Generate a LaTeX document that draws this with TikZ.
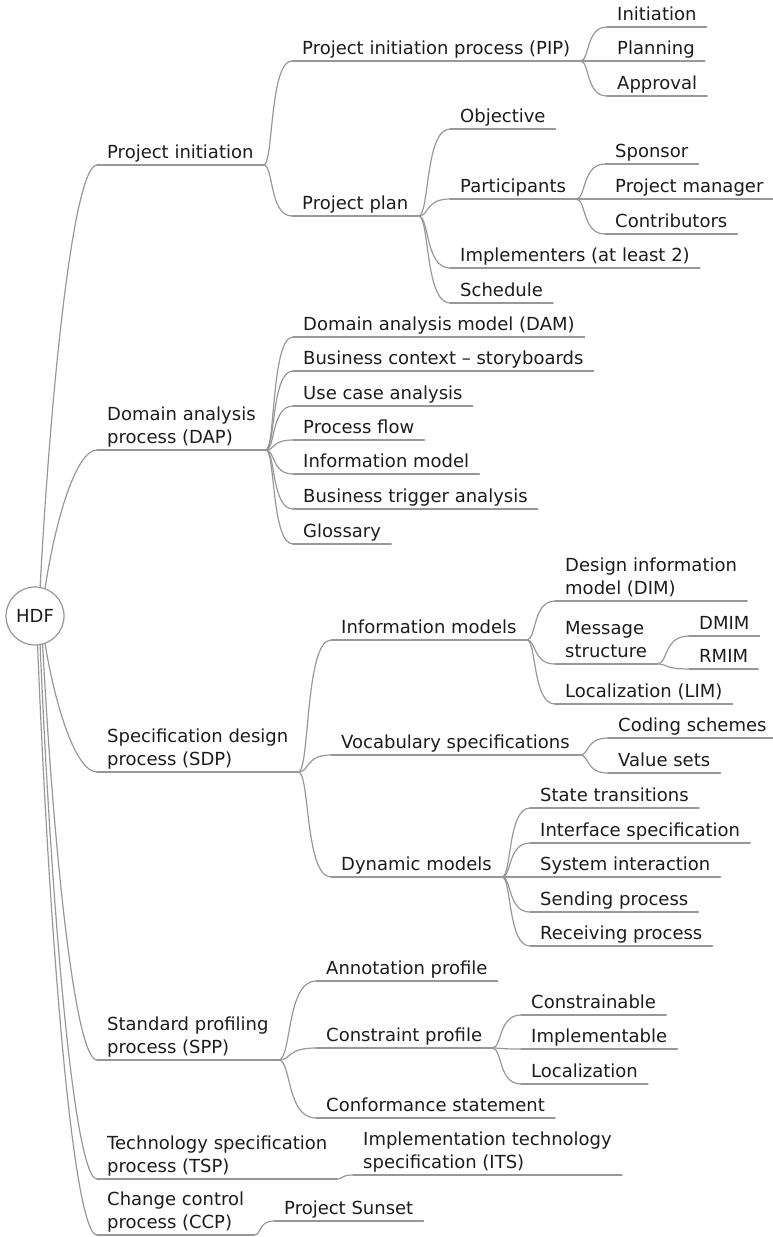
\documentclass[tikz,border=0pt]{standalone}
\usepackage{fontspec}
\setmainfont{DejaVu Sans}
\usetikzlibrary{calc}
\definecolor{linegray}{RGB}{152,152,152}
\definecolor{textdark}{RGB}{28,28,28}
\tikzset{
  topic/.style={anchor=south west, inner xsep=10pt, inner ysep=6pt, text depth=0pt,
    align=left, text=textdark, font=\fontsize{18}{23.5}\selectfont},
  link/.style={draw=linegray, line width=1.2pt, line cap=round},
}
% curve from the end of a parent's underline to the start of a child's
\newcommand\branchto[2]{%
  \draw[link] let \p1=(#1.south east), \p2=(#2.south west) in
    (\p1) .. controls ({\x1+0.35*(\x2-\x1)},\y1) and ({\x1+0.2*(\x2-\x1)},\y2) .. (\p2);}
% curve from the root circle to a main topic
\newcommand\trunkto[2]{%
  \draw[link] let \p1=(root.#1), \p2=(#2.south west) in
    (\p1) .. controls ({\x1+0.2*(\x2-\x1)},{\y1+0.5*(\y2-\y1)}) and ({\x1+0.6*(\x2-\x1)},\y2) .. (\p2);}
\begin{document}
\begin{tikzpicture}[x=1pt,y=-1pt]
  \useasboundingbox (0,0) rectangle (772,1237);
  \node[circle, draw=linegray, line width=1.2pt, minimum size=58pt, inner sep=0pt,
    text=textdark, font=\fontsize{18}{22}\selectfont] (root) at (35,616) {HDF};

  % main topics
  \node[topic] (pi)  at (97,165)  {Project initiation};
  \node[topic] (dap) at (97,450)  {Domain analysis\\process (DAP)};
  \node[topic] (sdp) at (97,772)  {Specification design\\process (SDP)};
  \node[topic] (spp) at (97,1060) {Standard profiling\\process (SPP)};
  \node[topic] (tsp) at (97,1179) {Technology specification\\process (TSP)};
  \node[topic] (ccp) at (97,1235) {Change control\\process (CCP)};

  % project initiation
  \node[topic] (pip)  at (292,61)  {Project initiation process (PIP)};
  \node[topic] (plan) at (292,216) {Project plan};
  \node[topic] (init)     at (607,27) {Initiation};
  \node[topic] (planning) at (607,61) {Planning};
  \node[topic] (approval) at (607,96) {Approval};
  \node[topic] (objective) at (450,129) {Objective};
  \node[topic] (partic)    at (450,199) {Participants};
  \node[topic] (implem)    at (450,268) {Implementers (at least 2)};
  \node[topic] (schedule)  at (450,303) {Schedule};
  \node[topic] (sponsor) at (605,164) {Sponsor};
  \node[topic] (manager) at (605,199) {Project manager};
  \node[topic] (contrib) at (605,234) {Contributors};

  % domain analysis
  \node[topic] (dam)      at (293,337) {Domain analysis model (DAM)};
  \node[topic] (context)  at (293,371) {Business context – storyboards};
  \node[topic] (usecase)  at (293,406) {Use case analysis};
  \node[topic] (flow)     at (293,440) {Process flow};
  \node[topic] (infomod)  at (293,474) {Information model};
  \node[topic] (trigger)  at (293,509) {Business trigger analysis};
  \node[topic] (glossary) at (293,544) {Glossary};

  % specification design
  \node[topic] (infomods) at (331,640) {Information models};
  \node[topic] (vocab)    at (331,755) {Vocabulary specifications};
  \node[topic] (dynamic)  at (331,877) {Dynamic models};
  \node[topic] (dim)  at (555,601) {Design information\\model (DIM)};
  \node[topic] (msg)  at (555,664) {Message\\structure};
  \node[topic] (lim)  at (555,704) {Localization (LIM)};
  \node[topic] (dmim) at (689,636) {DMIM};
  \node[topic] (rmim) at (689,669) {RMIM};
  \node[topic] (coding) at (608,738) {Coding schemes};
  \node[topic] (values) at (608,773) {Value sets};
  \node[topic] (states)    at (530,808) {State transitions};
  \node[topic] (iface)     at (530,843) {Interface specification};
  \node[topic] (sysint)    at (530,877) {System interaction};
  \node[topic] (sending)   at (530,912) {Sending process};
  \node[topic] (receiving) at (530,946) {Receiving process};

  % profiling, technology, change control
  \node[topic] (annot)   at (316,981)  {Annotation profile};
  \node[topic] (constr)  at (316,1048) {Constraint profile};
  \node[topic] (conform) at (316,1118) {Conformance statement};
  \node[topic] (constrainable) at (521,1015) {Constrainable};
  \node[topic] (implementable) at (521,1049) {Implementable};
  \node[topic] (localiz)       at (521,1084) {Localization};
  \node[topic] (its)    at (353,1175) {Implementation technology\\specification (ITS)};
  \node[topic] (sunset) at (274,1221) {Project Sunset};

  % underlines
  \foreach \n in {pi,dap,sdp,spp,tsp,ccp,pip,plan,init,planning,approval,objective,
      partic,implem,schedule,sponsor,manager,contrib,dam,context,usecase,flow,infomod,
      trigger,glossary,infomods,vocab,dynamic,dim,msg,lim,dmim,rmim,coding,values,
      states,iface,sysint,sending,receiving,annot,constr,conform,constrainable,
      implementable,localiz,its,sunset}
    \draw[link] (\n.south west) -- (\n.south east);

  % connectors
  \trunkto{80}{pi}
  \trunkto{70}{dap}
  \trunkto{-70}{sdp}
  \trunkto{-75}{spp}
  \trunkto{-80}{tsp}
  \trunkto{-85}{ccp}
  \foreach \c in {pip,plan} {\branchto{pi}{\c}}
  \foreach \c in {init,planning,approval} {\branchto{pip}{\c}}
  \foreach \c in {objective,partic,implem,schedule} {\branchto{plan}{\c}}
  \foreach \c in {sponsor,manager,contrib} {\branchto{partic}{\c}}
  \foreach \c in {dam,context,usecase,flow,infomod,trigger,glossary} {\branchto{dap}{\c}}
  \foreach \c in {infomods,vocab,dynamic} {\branchto{sdp}{\c}}
  \foreach \c in {dim,msg,lim} {\branchto{infomods}{\c}}
  \foreach \c in {dmim,rmim} {\branchto{msg}{\c}}
  \foreach \c in {coding,values} {\branchto{vocab}{\c}}
  \foreach \c in {states,iface,sysint,sending,receiving} {\branchto{dynamic}{\c}}
  \foreach \c in {annot,constr,conform} {\branchto{spp}{\c}}
  \foreach \c in {constrainable,implementable,localiz} {\branchto{constr}{\c}}
  \branchto{tsp}{its}
  \branchto{ccp}{sunset}
\end{tikzpicture}
\end{document}
